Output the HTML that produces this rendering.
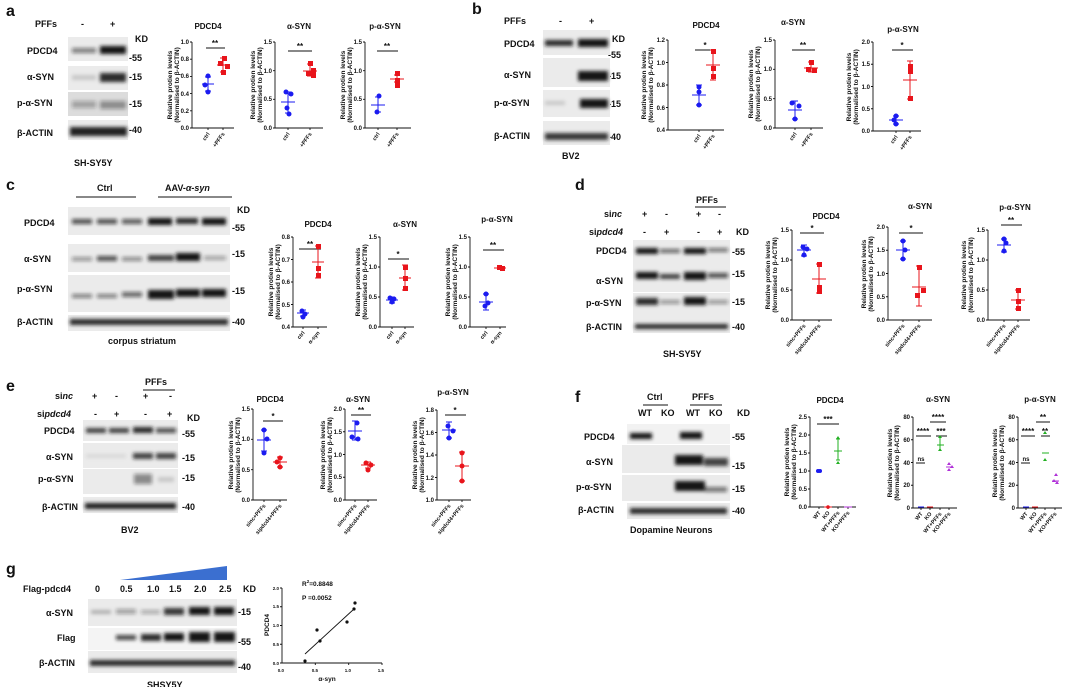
<!DOCTYPE html>
<html><head><meta charset="utf-8"><style>
body{margin:0;background:#fff}
svg{display:block}
text{font-family:"Liberation Sans",Arial,sans-serif;font-weight:bold;fill:#111}
.L{font-size:16px}.lb{font-size:9px}.tt{font-size:8px;text-anchor:middle}.tk{font-size:6px;text-anchor:end}
.yl{font-size:6.5px;text-anchor:middle}.xl{font-size:5.5px;text-anchor:end}.sg{font-size:8px;text-anchor:middle}
.ax{stroke:#111;stroke-width:0.9;fill:none}.bl{stroke:#1b1bf0;stroke-width:1;fill:none}.rd{stroke:#e8141b;stroke-width:1;fill:none}
.gr{stroke:#22b022;stroke-width:1;fill:none}.pu{stroke:#b030d8;stroke-width:1;fill:none}
.bc{fill:#1b1bf0}.rc{fill:#e8141b}.gc{fill:#22b022}.pc{fill:#b030d8}
.bg{fill:#ebebeb}.bd{fill:#151515}
</style></head><body>
<svg width="1080" height="687" viewBox="0 0 1080 687" xmlns="http://www.w3.org/2000/svg">
<defs><filter id="b" x="-20%" y="-80%" width="140%" height="260%"><feGaussianBlur stdDeviation="1.8"/></filter></defs>

<!-- ===== a ===== -->
<text class="L" x="6" y="16">a</text>
<text class="lb" x="35" y="27">PFFs</text><text class="lb" x="81" y="27">-</text><text class="lb" x="110" y="27">+</text>
<text class="lb" x="135" y="42">KD</text>
<text class="lb" x="27" y="54">PDCD4</text><text class="lb" x="27" y="80">α-SYN</text><text class="lb" x="17" y="106">p-α-SYN</text><text class="lb" x="17" y="136">β-ACTIN</text>
<text class="lb" x="129" y="61">-55</text><text class="lb" x="129" y="80">-15</text><text class="lb" x="129" y="107">-15</text><text class="lb" x="129" y="133">-40</text>
<rect class="bg" x="68" y="37" width="60" height="24"/><rect class="bg" x="68" y="66" width="60" height="24"/><rect class="bg" x="68" y="92" width="60" height="24" style="fill:#dcdcdc"/><rect class="bg" x="68" y="120" width="60" height="20"/>
<g filter="url(#b)"><rect class="bd" x="72" y="48" width="24" height="5" opacity=".5"/><rect class="bd" x="100" y="46" width="26" height="8"/>
<rect class="bd" x="72" y="75" width="24" height="5" opacity=".15"/><rect class="bd" x="100" y="73" width="26" height="9" opacity=".9"/>
<rect class="bd" x="72" y="101" width="24" height="7" opacity=".3"/><rect class="bd" x="100" y="101" width="26" height="8" opacity=".4"/>
<rect class="bd" x="70" y="127" width="57" height="9" opacity=".95"/></g>
<text class="lb" x="74" y="166">SH-SY5Y</text>

<g transform="translate(192,128)">
<text class="tt" x="16" y="-99">PDCD4</text>
<text class="yl" transform="translate(-20,-43) rotate(-90)">Relative protien levels</text><text class="yl" transform="translate(-13,-43) rotate(-90)">(Normalised to β-ACTIN)</text>
<path class="ax" d="M0,-86V0H42M0,0h-2M0,-17.2h-2M0,-34.4h-2M0,-51.6h-2M0,-68.8h-2M0,-86h-2M16,0v2M31,0v2"/>
<text class="tk" x="-3" y="2">0.0</text><text class="tk" x="-3" y="-15">0.2</text><text class="tk" x="-3" y="-32">0.4</text><text class="tk" x="-3" y="-50">0.6</text><text class="tk" x="-3" y="-67">0.8</text><text class="tk" x="-3" y="-84">1.0</text>
<path class="ax" d="M14,-80H33"/><text class="sg" x="23" y="-82">**</text>
<path class="bl" d="M10,-44h12M16,-51V-37M13,-51h6M13,-37h6"/><circle class="bc" cx="16" cy="-52" r="2.5"/><circle class="bc" cx="13" cy="-43" r="2.5"/><circle class="bc" cx="16" cy="-36" r="2.5"/>
<path class="rd" d="M25,-63h12M31,-70V-56M28,-70h6M28,-56h6"/><rect class="rc" x="30" y="-72" width="5" height="5"/><rect class="rc" x="26" y="-67" width="5" height="5"/><rect class="rc" x="33" y="-64" width="5" height="5"/><rect class="rc" x="29" y="-58" width="5" height="5"/>
<text class="xl" transform="translate(18,6) rotate(-55)">ctrl</text><text class="xl" transform="translate(33,6) rotate(-55)">+PFFs</text>
</g>
<g transform="translate(275,128)">
<text class="tt" x="24" y="-99">α-SYN</text>
<text class="yl" transform="translate(-20,-43) rotate(-90)">Relative protien levels</text><text class="yl" transform="translate(-13,-43) rotate(-90)">(Normalised to β-ACTIN)</text>
<path class="ax" d="M0,-86V0H48M0,0h-2M0,-28.7h-2M0,-57.3h-2M0,-86h-2M13,0v2M35,0v2"/>
<text class="tk" x="-3" y="2">0.0</text><text class="tk" x="-3" y="-27">0.5</text><text class="tk" x="-3" y="-55">1.0</text><text class="tk" x="-3" y="-84">1.5</text>
<path class="ax" d="M13,-77H37"/><text class="sg" x="25" y="-79">**</text>
<path class="bl" d="M6,-26h14M13,-36V-15M10,-36h6M10,-15h6"/><circle class="bc" cx="11" cy="-36" r="2.5"/><circle class="bc" cx="16" cy="-34" r="2.5"/><circle class="bc" cx="12" cy="-20" r="2.5"/><circle class="bc" cx="14" cy="-14" r="2.5"/>
<path class="rd" d="M28,-57h14M35,-64V-52M32,-64h6M32,-52h6"/><rect class="rc" x="33" y="-67" width="5" height="5"/><rect class="rc" x="36" y="-60" width="5" height="5"/><rect class="rc" x="31" y="-57" width="5" height="5"/><rect class="rc" x="36" y="-55" width="5" height="5"/>
<text class="xl" transform="translate(15,6) rotate(-55)">ctrl</text><text class="xl" transform="translate(37,6) rotate(-55)">+PFFs</text>
</g>
<g transform="translate(365,128)">
<text class="tt" x="20" y="-99">p-α-SYN</text>
<text class="yl" transform="translate(-20,-43) rotate(-90)">Relative protien levels</text><text class="yl" transform="translate(-13,-43) rotate(-90)">(Normalised to β-ACTIN)</text>
<path class="ax" d="M0,-86V0H46M0,0h-2M0,-28.7h-2M0,-57.3h-2M0,-86h-2M13,0v2M32,0v2"/>
<text class="tk" x="-3" y="2">0.0</text><text class="tk" x="-3" y="-27">0.5</text><text class="tk" x="-3" y="-55">1.0</text><text class="tk" x="-3" y="-84">1.5</text>
<path class="ax" d="M12,-77H33"/><text class="sg" x="22" y="-79">**</text>
<path class="bl" d="M6,-23h14M13,-31V-16M10,-31h6M10,-16h6"/><circle class="bc" cx="14" cy="-32" r="2.5"/><circle class="bc" cx="12" cy="-16" r="2.5"/>
<path class="rd" d="M25,-49h14M32,-53V-46M29,-53h6M29,-46h6"/><rect class="rc" x="30" y="-57" width="5" height="5"/><rect class="rc" x="30" y="-50" width="5" height="5"/><rect class="rc" x="30" y="-45" width="5" height="5"/>
<text class="xl" transform="translate(15,6) rotate(-55)">ctrl</text><text class="xl" transform="translate(34,6) rotate(-55)">+PFFs</text>
</g>

<!-- ===== b ===== -->
<text class="L" x="472" y="14">b</text>
<text class="lb" x="504" y="24">PFFs</text><text class="lb" x="559" y="24">-</text><text class="lb" x="589" y="24">+</text>
<text class="lb" x="612" y="42">KD</text>
<text class="lb" x="504" y="47">PDCD4</text><text class="lb" x="504" y="78">α-SYN</text><text class="lb" x="494" y="106">p-α-SYN</text><text class="lb" x="494" y="139">β-ACTIN</text>
<text class="lb" x="608" y="58">-55</text><text class="lb" x="608" y="79">-15</text><text class="lb" x="608" y="107">-15</text><text class="lb" x="608" y="140">-40</text>
<rect class="bg" x="543" y="30" width="67" height="25"/><rect class="bg" x="543" y="58" width="67" height="29"/><rect class="bg" x="543" y="90" width="67" height="27"/><rect class="bg" x="543" y="121" width="67" height="24"/>
<g filter="url(#b)"><rect class="bd" x="545" y="40" width="28" height="6" opacity=".9"/><rect class="bd" x="578" y="39" width="30" height="8"/>
<rect class="bd" x="578" y="71" width="30" height="10"/><rect class="bd" x="545" y="101" width="20" height="4" opacity=".15"/><rect class="bd" x="580" y="99" width="28" height="9"/>
<rect class="bd" x="545" y="133" width="63" height="7" opacity=".85"/></g>
<text class="lb" x="562" y="159">BV2</text>

<g transform="translate(668,130)">
<text class="tt" x="38" y="-102">PDCD4</text>
<text class="yl" transform="translate(-22,-45) rotate(-90)">Relative protien levels</text><text class="yl" transform="translate(-15,-45) rotate(-90)">(Normalised to β-ACTIN)</text>
<path class="ax" d="M0,-90V0H56M0,0h-2M0,-22.5h-2M0,-45h-2M0,-67.5h-2M0,-90h-2M31,0v2M45,0v2"/>
<text class="tk" x="-3" y="2">0.4</text><text class="tk" x="-3" y="-20">0.6</text><text class="tk" x="-3" y="-43">0.8</text><text class="tk" x="-3" y="-65">1.0</text><text class="tk" x="-3" y="-88">1.2</text>
<path class="ax" d="M27,-80H48"/><text class="sg" x="37" y="-82">*</text>
<path class="bl" d="M24,-35h14M31,-45V-25M28,-45h6M28,-25h6"/><circle class="bc" cx="31" cy="-43" r="2.5"/><circle class="bc" cx="31" cy="-38" r="2.5"/><circle class="bc" cx="31" cy="-25" r="2.5"/>
<path class="rd" d="M38,-65h14M45,-80V-50M42,-80h6M42,-50h6"/><rect class="rc" x="43" y="-81" width="5" height="5"/><rect class="rc" x="43" y="-64" width="5" height="5"/><rect class="rc" x="43" y="-56" width="5" height="5"/>
<text class="xl" transform="translate(33,6) rotate(-55)">ctrl</text><text class="xl" transform="translate(47,6) rotate(-55)">+PFFs</text>
</g>
<g transform="translate(775,128)">
<text class="tt" x="18" y="-103">α-SYN</text>
<text class="yl" transform="translate(-22,-44) rotate(-90)">Relative protien levels</text><text class="yl" transform="translate(-15,-44) rotate(-90)">(Normalised to β-ACTIN)</text>
<path class="ax" d="M0,-88V0H48M0,0h-2M0,-29.3h-2M0,-58.7h-2M0,-88h-2M20,0v2M36,0v2"/>
<text class="tk" x="-3" y="2">0.0</text><text class="tk" x="-3" y="-27">0.5</text><text class="tk" x="-3" y="-57">1.0</text><text class="tk" x="-3" y="-86">1.5</text>
<path class="ax" d="M17,-78H40"/><text class="sg" x="28" y="-80">**</text>
<path class="bl" d="M13,-18h14M20,-27V-9M17,-27h6M17,-27h6M17,-9h6"/><circle class="bc" cx="17" cy="-25" r="2.5"/><circle class="bc" cx="24" cy="-22" r="2.5"/><circle class="bc" cx="20" cy="-9" r="2.5"/>
<path class="rd" d="M29,-60h14M36,-66V-56M33,-66h6M33,-56h6"/><rect class="rc" x="34" y="-68" width="5" height="5"/><rect class="rc" x="31" y="-61" width="5" height="5"/><rect class="rc" x="37" y="-60" width="5" height="5"/>
<text class="xl" transform="translate(22,6) rotate(-55)">ctrl</text><text class="xl" transform="translate(38,6) rotate(-55)">+PFFs</text>
</g>
<g transform="translate(873,131)">
<text class="tt" x="30" y="-99">p-α-SYN</text>
<text class="yl" transform="translate(-22,-44) rotate(-90)">Relative protien levels</text><text class="yl" transform="translate(-15,-44) rotate(-90)">(Normalised to β-ACTIN)</text>
<path class="ax" d="M0,-89V0H48M0,0h-2M0,-22.25h-2M0,-44.5h-2M0,-66.75h-2M0,-89h-2M23,0v2M37,0v2"/>
<text class="tk" x="-3" y="2">0.0</text><text class="tk" x="-3" y="-20">0.5</text><text class="tk" x="-3" y="-42">1.0</text><text class="tk" x="-3" y="-65">1.5</text><text class="tk" x="-3" y="-87">2.0</text>
<path class="ax" d="M19,-81H40"/><text class="sg" x="29" y="-83">*</text>
<path class="bl" d="M16,-11h14M23,-15V-7M20,-15h6M20,-7h6"/><circle class="bc" cx="23" cy="-15" r="2.5"/><circle class="bc" cx="21" cy="-11" r="2.5"/><circle class="bc" cx="23" cy="-7" r="2.5"/>
<path class="rd" d="M30,-51h14M37,-70V-32M34,-70h6M34,-32h6"/><rect class="rc" x="35" y="-67" width="5" height="5"/><rect class="rc" x="35" y="-62" width="5" height="5"/><rect class="rc" x="35" y="-35" width="5" height="5"/>
<text class="xl" transform="translate(25,6) rotate(-55)">ctrl</text><text class="xl" transform="translate(39,6) rotate(-55)">+PFFs</text>
</g>

<!-- ===== c ===== -->
<text class="L" x="6" y="190">c</text>
<text class="lb" x="97" y="191">Ctrl</text><path class="ax" d="M76,197H136M158,197H232"/>
<text class="lb" x="165" y="191">AAV-<tspan font-style="italic">α-syn</tspan></text>
<text class="lb" x="237" y="213">KD</text>
<text class="lb" x="24" y="226">PDCD4</text><text class="lb" x="24" y="262">α-SYN</text><text class="lb" x="17" y="292">p-α-SYN</text><text class="lb" x="17" y="325">β-ACTIN</text>
<text class="lb" x="232" y="231">-55</text><text class="lb" x="232" y="257">-15</text><text class="lb" x="232" y="294">-15</text><text class="lb" x="232" y="325">-40</text>
<rect class="bg" x="68" y="207" width="162" height="28"/><rect class="bg" x="68" y="244" width="162" height="28"/><rect class="bg" x="68" y="275" width="162" height="37"/><rect class="bg" x="68" y="315" width="162" height="16"/>
<g filter="url(#b)"><rect class="bd" x="72" y="219" width="20" height="5" opacity=".7"/><rect class="bd" x="97" y="219" width="20" height="5" opacity=".7"/><rect class="bd" x="122" y="219" width="20" height="5" opacity=".65"/><rect class="bd" x="148" y="218" width="24" height="7"/><rect class="bd" x="176" y="218" width="22" height="6" opacity=".9"/><rect class="bd" x="202" y="218" width="24" height="7"/>
<rect class="bd" x="72" y="257" width="20" height="4" opacity=".4"/><rect class="bd" x="97" y="256" width="20" height="5" opacity=".7"/><rect class="bd" x="122" y="257" width="20" height="4" opacity=".45"/><rect class="bd" x="148" y="255" width="26" height="6" opacity=".8"/><rect class="bd" x="176" y="253" width="24" height="8"/><rect class="bd" x="204" y="256" width="22" height="4" opacity=".35"/>
<rect class="bd" x="72" y="294" width="20" height="4" opacity=".5"/><rect class="bd" x="97" y="294" width="20" height="4" opacity=".5"/><rect class="bd" x="122" y="292" width="20" height="5" opacity=".6"/><rect class="bd" x="148" y="290" width="26" height="9"/><rect class="bd" x="176" y="289" width="24" height="8"/><rect class="bd" x="202" y="289" width="24" height="8"/>
<rect class="bd" x="70" y="319" width="158" height="6" opacity=".9"/></g>
<text class="lb" x="108" y="344">corpus striatum</text>

<g transform="translate(293,327)">
<text class="tt" x="25" y="-100">PDCD4</text>
<text class="yl" transform="translate(-20,-45) rotate(-90)">Relative protien levels</text><text class="yl" transform="translate(-13,-45) rotate(-90)">(Normalised to β-ACTIN)</text>
<path class="ax" d="M0,-90V0H34M0,0h-2M0,-22.5h-2M0,-45h-2M0,-67.5h-2M0,-90h-2M10,0v2M25,0v2"/>
<text class="tk" x="-3" y="2">0.4</text><text class="tk" x="-3" y="-20">0.5</text><text class="tk" x="-3" y="-43">0.6</text><text class="tk" x="-3" y="-65">0.7</text><text class="tk" x="-3" y="-88">0.8</text>
<path class="ax" d="M6,-78H28"/><text class="sg" x="17" y="-80">**</text>
<path class="bl" d="M4,-14h12M10,-17V-11M7,-17h6M7,-11h6"/><circle class="bc" cx="9" cy="-16" r="2.5"/><circle class="bc" cx="12" cy="-13" r="2.5"/><circle class="bc" cx="10" cy="-10" r="2.5"/>
<path class="rd" d="M19,-65h12M25,-81V-49M22,-81h6M22,-49h6"/><rect class="rc" x="23" y="-83" width="5" height="5"/><rect class="rc" x="23" y="-61" width="5" height="5"/><rect class="rc" x="23" y="-54" width="5" height="5"/>
<text class="xl" transform="translate(12,6) rotate(-50)">ctrl</text><text class="xl" transform="translate(27,6) rotate(-50)">α-syn</text>
</g>
<g transform="translate(380,327)">
<text class="tt" x="25" y="-100">α-SYN</text>
<text class="yl" transform="translate(-20,-45) rotate(-90)">Relative protien levels</text><text class="yl" transform="translate(-13,-45) rotate(-90)">(Normalised to β-ACTIN)</text>
<path class="ax" d="M0,-90V0H34M0,0h-2M0,-30h-2M0,-60h-2M0,-90h-2M12,0v2M25,0v2"/>
<text class="tk" x="-3" y="2">0.0</text><text class="tk" x="-3" y="-28">0.5</text><text class="tk" x="-3" y="-58">1.0</text><text class="tk" x="-3" y="-88">1.5</text>
<path class="ax" d="M8,-68H29"/><text class="sg" x="18" y="-70">*</text>
<path class="bl" d="M6,-27h12M12,-30V-24M9,-30h6M9,-24h6"/><circle class="bc" cx="10" cy="-29" r="2.5"/><circle class="bc" cx="14" cy="-28" r="2.5"/><circle class="bc" cx="12" cy="-25" r="2.5"/>
<path class="rd" d="M19,-49h12M25,-62V-37M22,-62h6M22,-37h6"/><rect class="rc" x="23" y="-62" width="5" height="5"/><rect class="rc" x="23" y="-51" width="5" height="5"/><rect class="rc" x="23" y="-41" width="5" height="5"/>
<text class="xl" transform="translate(14,6) rotate(-50)">ctrl</text><text class="xl" transform="translate(27,6) rotate(-50)">α-syn</text>
</g>
<g transform="translate(470,327)">
<text class="tt" x="27" y="-105">p-α-SYN</text>
<text class="yl" transform="translate(-20,-45) rotate(-90)">Relative protien levels</text><text class="yl" transform="translate(-13,-45) rotate(-90)">(Normalised to β-ACTIN)</text>
<path class="ax" d="M0,-90V0H36M0,0h-2M0,-30h-2M0,-60h-2M0,-90h-2M16,0v2M30,0v2"/>
<text class="tk" x="-3" y="2">0.0</text><text class="tk" x="-3" y="-28">0.5</text><text class="tk" x="-3" y="-58">1.0</text><text class="tk" x="-3" y="-88">1.5</text>
<path class="ax" d="M13,-77H34"/><text class="sg" x="23" y="-79">**</text>
<path class="bl" d="M9,-25h14M16,-33V-17M13,-33h6M13,-17h6"/><circle class="bc" cx="16" cy="-33" r="2.5"/><circle class="bc" cx="18" cy="-24" r="2.5"/><circle class="bc" cx="15" cy="-21" r="2.5"/>
<path class="rd" d="M24,-59h12"/><rect class="rc" x="27" y="-62" width="5" height="5"/><rect class="rc" x="30" y="-61" width="5" height="5"/>
<text class="xl" transform="translate(18,6) rotate(-50)">ctrl</text><text class="xl" transform="translate(32,6) rotate(-50)">α-syn</text>
</g>

<!-- ===== d ===== -->
<text class="L" x="575" y="190">d</text>
<text class="lb" x="696" y="203">PFFs</text><path class="ax" d="M695,207H726"/>
<text class="lb" x="604" y="217"><tspan>si</tspan><tspan font-style="italic">nc</tspan></text><text class="lb" x="589" y="235">si<tspan font-style="italic">pdcd4</tspan></text>
<text class="lb" x="642" y="217">+</text><text class="lb" x="665" y="217">-</text><text class="lb" x="696" y="217">+</text><text class="lb" x="718" y="217">-</text>
<text class="lb" x="643" y="235">-</text><text class="lb" x="664" y="235">+</text><text class="lb" x="697" y="235">-</text><text class="lb" x="717" y="235">+</text>
<text class="lb" x="736" y="235">KD</text>
<text class="lb" x="596" y="254">PDCD4</text><text class="lb" x="596" y="284">α-SYN</text><text class="lb" x="586" y="306">p-α-SYN</text><text class="lb" x="586" y="330">β-ACTIN</text>
<text class="lb" x="732" y="255">-55</text><text class="lb" x="732" y="277">-15</text><text class="lb" x="732" y="305">-15</text><text class="lb" x="732" y="330">-40</text>
<rect class="bg" x="633" y="240" width="97" height="24"/><rect class="bg" x="633" y="264" width="97" height="28"/><rect class="bg" x="633" y="293" width="97" height="27"/><rect class="bg" x="633" y="320" width="97" height="13"/>
<g filter="url(#b)"><rect class="bd" x="636" y="248" width="22" height="6"/><rect class="bd" x="660" y="249" width="20" height="4" opacity=".6"/><rect class="bd" x="684" y="248" width="22" height="6"/><rect class="bd" x="708" y="248" width="20" height="4" opacity=".55"/>
<rect class="bd" x="636" y="272" width="22" height="7"/><rect class="bd" x="660" y="274" width="20" height="5" opacity=".8"/><rect class="bd" x="684" y="272" width="22" height="8"/><rect class="bd" x="708" y="273" width="20" height="5" opacity=".7"/>
<rect class="bd" x="636" y="298" width="22" height="7" opacity=".9"/><rect class="bd" x="660" y="300" width="20" height="4" opacity=".4"/><rect class="bd" x="684" y="297" width="22" height="8"/><rect class="bd" x="708" y="300" width="20" height="4" opacity=".4"/>
<rect class="bd" x="635" y="324" width="93" height="5" opacity=".9"/></g>
<text class="lb" x="663" y="357">SH-SY5Y</text>

<g transform="translate(792,320)">
<text class="tt" x="34" y="-101">PDCD4</text>
<text class="yl" transform="translate(-22,-45) rotate(-90)">Relative protien levels</text><text class="yl" transform="translate(-15,-45) rotate(-90)">(Normalised to β-ACTIN)</text>
<path class="ax" d="M0,-90V0H40M0,0h-2M0,-30h-2M0,-60h-2M0,-90h-2M12,0v2M27,0v2"/>
<text class="tk" x="-3" y="2">0.0</text><text class="tk" x="-3" y="-28">0.5</text><text class="tk" x="-3" y="-58">1.0</text><text class="tk" x="-3" y="-88">1.5</text>
<path class="ax" d="M8,-87H32"/><text class="sg" x="20" y="-89">*</text>
<path class="bl" d="M5,-70h14M12,-75V-64M9,-75h6M9,-64h6"/><circle class="bc" cx="11" cy="-73" r="2.5"/><circle class="bc" cx="15" cy="-71" r="2.5"/><circle class="bc" cx="12" cy="-65" r="2.5"/>
<path class="rd" d="M20,-41h14M27,-56V-27M24,-56h6M24,-27h6"/><rect class="rc" x="25" y="-58" width="5" height="5"/><rect class="rc" x="25" y="-35" width="5" height="5"/><rect class="rc" x="25" y="-31" width="5" height="5"/>
<text class="xl" transform="translate(14,6) rotate(-50)">sinc+PFFs</text><text class="xl" transform="translate(29,6) rotate(-50)">sipdcd4+PFFs</text>
</g>
<g transform="translate(888,320)">
<text class="tt" x="32" y="-111">α-SYN</text>
<text class="yl" transform="translate(-22,-46) rotate(-90)">Relative protien levels</text><text class="yl" transform="translate(-15,-46) rotate(-90)">(Normalised to β-ACTIN)</text>
<path class="ax" d="M0,-93V0H44M0,0h-2M0,-23.25h-2M0,-46.5h-2M0,-69.75h-2M0,-93h-2M15,0v2M31,0v2"/>
<text class="tk" x="-3" y="2">0.0</text><text class="tk" x="-3" y="-21">0.5</text><text class="tk" x="-3" y="-44">1.0</text><text class="tk" x="-3" y="-68">1.5</text><text class="tk" x="-3" y="-91">2.0</text>
<path class="ax" d="M11,-87H35"/><text class="sg" x="23" y="-89">*</text>
<path class="bl" d="M8,-70h14M15,-79V-61M12,-79h6M12,-61h6"/><circle class="bc" cx="15" cy="-79" r="2.5"/><circle class="bc" cx="17" cy="-70" r="2.5"/><circle class="bc" cx="15" cy="-61" r="2.5"/>
<path class="rd" d="M24,-33h14M31,-54V-14M28,-54h6M28,-14h6"/><rect class="rc" x="29" y="-55" width="5" height="5"/><rect class="rc" x="33" y="-32" width="5" height="5"/><rect class="rc" x="27" y="-27" width="5" height="5"/>
<text class="xl" transform="translate(17,6) rotate(-50)">sinc+PFFs</text><text class="xl" transform="translate(33,6) rotate(-50)">sipdcd4+PFFs</text>
</g>
<g transform="translate(988,320)">
<text class="tt" x="27" y="-110">p-α-SYN</text>
<text class="yl" transform="translate(-22,-45) rotate(-90)">Relative protien levels</text><text class="yl" transform="translate(-15,-45) rotate(-90)">(Normalised to β-ACTIN)</text>
<path class="ax" d="M0,-90V0H42M0,0h-2M0,-30h-2M0,-60h-2M0,-90h-2M16,0v2M30,0v2"/>
<text class="tk" x="-3" y="2">0.0</text><text class="tk" x="-3" y="-28">0.5</text><text class="tk" x="-3" y="-58">1.0</text><text class="tk" x="-3" y="-88">1.5</text>
<path class="ax" d="M13,-95H34"/><text class="sg" x="23" y="-97">**</text>
<path class="bl" d="M9,-75h14M16,-81V-68M13,-81h6M13,-68h6"/><circle class="bc" cx="16" cy="-81" r="2.5"/><circle class="bc" cx="18" cy="-77" r="2.5"/><circle class="bc" cx="16" cy="-69" r="2.5"/>
<path class="rd" d="M23,-20h14M30,-30V-11M27,-30h6M27,-11h6"/><rect class="rc" x="28" y="-32" width="5" height="5"/><rect class="rc" x="28" y="-21" width="5" height="5"/><rect class="rc" x="28" y="-14" width="5" height="5"/>
<text class="xl" transform="translate(18,6) rotate(-50)">sinc+PFFs</text><text class="xl" transform="translate(32,6) rotate(-50)">sipdcd4+PFFs</text>
</g>

<!-- ===== e ===== -->
<text class="L" x="6" y="391">e</text>
<text class="lb" x="145" y="385">PFFs</text><path class="ax" d="M143,390H175"/>
<text class="lb" x="55" y="399">si<tspan font-style="italic">nc</tspan></text><text class="lb" x="37" y="417">si<tspan font-style="italic">pdcd4</tspan></text>
<text class="lb" x="92" y="399">+</text><text class="lb" x="115" y="399">-</text><text class="lb" x="143" y="399">+</text><text class="lb" x="169" y="399">-</text>
<text class="lb" x="94" y="417">-</text><text class="lb" x="114" y="417">+</text><text class="lb" x="144" y="417">-</text><text class="lb" x="167" y="417">+</text>
<text class="lb" x="187" y="421">KD</text>
<text class="lb" x="44" y="434">PDCD4</text><text class="lb" x="46" y="460">α-SYN</text><text class="lb" x="38" y="482">p-α-SYN</text><text class="lb" x="42" y="510">β-ACTIN</text>
<text class="lb" x="182" y="437">-55</text><text class="lb" x="182" y="461">-15</text><text class="lb" x="182" y="481">-15</text><text class="lb" x="182" y="510">-40</text>
<rect class="bg" x="83" y="420" width="95" height="21"/><rect class="bg" x="83" y="443" width="95" height="25"/><rect class="bg" x="83" y="469" width="95" height="25"/><rect class="bg" x="83" y="497" width="95" height="16"/>
<g filter="url(#b)"><rect class="bd" x="86" y="428" width="20" height="5" opacity=".8"/><rect class="bd" x="109" y="428" width="20" height="5" opacity=".8"/><rect class="bd" x="133" y="427" width="20" height="6" opacity=".9"/><rect class="bd" x="156" y="428" width="20" height="5" opacity=".7"/>
<rect class="bd" x="133" y="453" width="20" height="6" opacity=".8"/><rect class="bd" x="156" y="453" width="20" height="6" opacity=".8"/><rect class="bd" x="86" y="454" width="40" height="4" opacity=".08"/>
<rect class="bd" x="134" y="474" width="18" height="10" opacity=".45"/><rect class="bd" x="158" y="477" width="16" height="5" opacity=".15"/>
<rect class="bd" x="85" y="503" width="91" height="6" opacity=".95"/></g>
<text class="lb" x="121" y="533">BV2</text>

<g transform="translate(253,500)">
<text class="tt" x="17" y="-98">PDCD4</text>
<text class="yl" transform="translate(-20,-45) rotate(-90)">Relative protien levels</text><text class="yl" transform="translate(-13,-45) rotate(-90)">(Normalised to β-ACTIN)</text>
<path class="ax" d="M0,-91V0H34M0,0h-2M0,-30.3h-2M0,-60.7h-2M0,-91h-2M11,0v2M27,0v2"/>
<text class="tk" x="-3" y="2">0.0</text><text class="tk" x="-3" y="-28">0.5</text><text class="tk" x="-3" y="-59">1.0</text><text class="tk" x="-3" y="-89">1.5</text>
<path class="ax" d="M10,-79H30"/><text class="sg" x="20" y="-81">*</text>
<path class="bl" d="M4,-60h14M11,-70V-49M8,-70h6M8,-49h6"/><circle class="bc" cx="11" cy="-70" r="2.5"/><circle class="bc" cx="14" cy="-61" r="2.5"/><circle class="bc" cx="11" cy="-47" r="2.5"/>
<path class="rd" d="M20,-38h14M27,-43V-33M24,-43h6M24,-33h6"/><circle class="rc" cx="27" cy="-42" r="2.5"/><circle class="rc" cx="24" cy="-38" r="2.5"/><circle class="rc" cx="27" cy="-33" r="2.5"/>
<text class="xl" transform="translate(13,6) rotate(-50)">sinc+PFFs</text><text class="xl" transform="translate(29,6) rotate(-50)">sipdcd4+PFFs</text>
</g>
<g transform="translate(345,500)">
<text class="tt" x="13" y="-98">α-SYN</text>
<text class="yl" transform="translate(-20,-45) rotate(-90)">Relative protien levels</text><text class="yl" transform="translate(-13,-45) rotate(-90)">(Normalised to β-ACTIN)</text>
<path class="ax" d="M0,-91V0H32M0,0h-2M0,-22.75h-2M0,-45.5h-2M0,-68.25h-2M0,-91h-2M10,0v2M23,0v2"/>
<text class="tk" x="-3" y="2">0.0</text><text class="tk" x="-3" y="-21">0.5</text><text class="tk" x="-3" y="-43">1.0</text><text class="tk" x="-3" y="-66">1.5</text><text class="tk" x="-3" y="-89">2.0</text>
<path class="ax" d="M6,-85H26"/><text class="sg" x="16" y="-87">**</text>
<path class="bl" d="M3,-69h14M10,-79V-60M7,-79h6M7,-60h6"/><circle class="bc" cx="12" cy="-77" r="2.5"/><circle class="bc" cx="7" cy="-63" r="2.5"/><circle class="bc" cx="13" cy="-61" r="2.5"/>
<path class="rd" d="M16,-35h14M23,-38V-32M20,-38h6M20,-32h6"/><circle class="rc" cx="21" cy="-37" r="2.5"/><circle class="rc" cx="26" cy="-35" r="2.5"/><circle class="rc" cx="23" cy="-30" r="2.5"/>
<text class="xl" transform="translate(12,6) rotate(-50)">sinc+PFFs</text><text class="xl" transform="translate(25,6) rotate(-50)">sipdcd4+PFFs</text>
</g>
<g transform="translate(437,500)">
<text class="tt" x="16" y="-105">p-α-SYN</text>
<text class="yl" transform="translate(-20,-45) rotate(-90)">Relative protien levels</text><text class="yl" transform="translate(-13,-45) rotate(-90)">(Normalised to β-ACTIN)</text>
<path class="ax" d="M0,-90V0H34M0,0h-2M0,-22.5h-2M0,-45h-2M0,-67.5h-2M0,-90h-2M12,0v2M25,0v2"/>
<text class="tk" x="-3" y="2">1.0</text><text class="tk" x="-3" y="-20">1.2</text><text class="tk" x="-3" y="-43">1.4</text><text class="tk" x="-3" y="-65">1.6</text><text class="tk" x="-3" y="-88">1.8</text>
<path class="ax" d="M8,-85H29"/><text class="sg" x="18" y="-87">*</text>
<path class="bl" d="M5,-70h14M12,-78V-62M9,-78h6M9,-62h6"/><circle class="bc" cx="11" cy="-74" r="2.5"/><circle class="bc" cx="16" cy="-69" r="2.5"/><circle class="bc" cx="12" cy="-62" r="2.5"/>
<path class="rd" d="M18,-34h14M25,-48V-19M22,-48h6M22,-19h6"/><circle class="rc" cx="25" cy="-47" r="2.5"/><circle class="rc" cx="25" cy="-34" r="2.5"/><circle class="rc" cx="25" cy="-19" r="2.5"/>
<text class="xl" transform="translate(14,6) rotate(-50)">sinc+PFFs</text><text class="xl" transform="translate(27,6) rotate(-50)">sipdcd4+PFFs</text>
</g>

<!-- ===== f ===== -->
<text class="L" x="575" y="402">f</text>
<text class="lb" x="647" y="400">Ctrl</text><path class="ax" d="M643,405H668M690,405H722"/><text class="lb" x="692" y="400">PFFs</text>
<text class="lb" x="638" y="416">WT</text><text class="lb" x="661" y="416">KO</text><text class="lb" x="686" y="416">WT</text><text class="lb" x="709" y="416">KO</text><text class="lb" x="737" y="416">KD</text>
<text class="lb" x="584" y="440">PDCD4</text><text class="lb" x="586" y="465">α-SYN</text><text class="lb" x="576" y="490">p-α-SYN</text><text class="lb" x="578" y="513">β-ACTIN</text>
<text class="lb" x="732" y="440">-55</text><text class="lb" x="732" y="469">-15</text><text class="lb" x="732" y="492">-15</text><text class="lb" x="732" y="514">-40</text>
<rect class="bg" x="627" y="424" width="103" height="20" style="fill:#f2f2f2"/><rect class="bg" x="622" y="445" width="108" height="28"/><rect class="bg" x="622" y="475" width="108" height="26"/><rect class="bg" x="627" y="503" width="103" height="16"/>
<g filter="url(#b)"><rect class="bd" x="630" y="433" width="22" height="6"/><rect class="bd" x="680" y="432" width="22" height="7"/>
<rect class="bd" x="675" y="455" width="28" height="10"/><rect class="bd" x="704" y="458" width="24" height="8" opacity=".8"/>
<rect class="bd" x="675" y="481" width="30" height="10"/><rect class="bd" x="705" y="487" width="22" height="5" opacity=".55"/>
<rect class="bd" x="630" y="508" width="97" height="6" opacity=".9"/></g>
<text class="lb" x="630" y="533">Dopamine Neurons</text>

<g transform="translate(810,507)">
<text class="tt" x="20" y="-104">PDCD4</text>
<text class="yl" transform="translate(-21,-45) rotate(-90)">Relative protien levels</text><text class="yl" transform="translate(-14,-45) rotate(-90)">(Normalised to β-ACTIN)</text>
<path class="ax" d="M0,-90V0H46M0,0h-2M0,-18h-2M0,-36h-2M0,-54h-2M0,-72h-2M0,-90h-2M9,0v2M18,0v2M28,0v2M38,0v2"/>
<text class="tk" x="-3" y="2">0.0</text><text class="tk" x="-3" y="-16">0.5</text><text class="tk" x="-3" y="-34">1.0</text><text class="tk" x="-3" y="-52">1.5</text><text class="tk" x="-3" y="-70">2.0</text><text class="tk" x="-3" y="-88">2.5</text>
<path class="ax" d="M7,-83H29"/><text class="sg" x="18" y="-85">***</text>
<path class="bl" d="M6,-36h6"/><circle class="bc" cx="8" cy="-36" r="2"/><circle class="bc" cx="10" cy="-36" r="2"/>
<path class="rd" d="M14,0h8"/><circle class="rc" cx="18" cy="0" r="1.8"/>
<path class="gr" d="M24,-56h8M28,-68V-47M26,-68h4M26,-47h4"/><path class="gc" d="M28,-71l2,3h-4zM28,-46l2,3h-4z"/>
<path class="pu" d="M34,0h8"/>
<text class="xl" transform="translate(11,6) rotate(-50)">WT</text><text class="xl" transform="translate(20,6) rotate(-50)">KO</text><text class="xl" transform="translate(30,6) rotate(-50)">WT+PFFs</text><text class="xl" transform="translate(40,6) rotate(-50)">KO+PFFs</text>
</g>
<g transform="translate(913,508)">
<text class="tt" x="25" y="-106">α-SYN</text>
<text class="yl" transform="translate(-21,-45) rotate(-90)">Relative protien levels</text><text class="yl" transform="translate(-14,-45) rotate(-90)">(Normalised to β-ACTIN)</text>
<path class="ax" d="M0,-91V0H44M0,0h-2M0,-22.75h-2M0,-45.5h-2M0,-68.25h-2M0,-91h-2M8,0v2M17,0v2M27,0v2M36,0v2"/>
<text class="tk" x="-3" y="2">0</text><text class="tk" x="-3" y="-21">20</text><text class="tk" x="-3" y="-43">40</text><text class="tk" x="-3" y="-66">60</text><text class="tk" x="-3" y="-89">80</text>
<path class="ax" d="M3,-45H12M3,-72H18M23,-72H34M17,-86H33"/><text class="sg" x="8" y="-47" style="font-size:6px">ns</text><text class="sg" x="10" y="-74">****</text><text class="sg" x="28" y="-74">***</text><text class="sg" x="25" y="-88">****</text>
<path class="bl" d="M5,-1h6"/><path class="rd" d="M14,-1h6"/>
<path class="gr" d="M24,-63h7M27,-70V-58"/><path class="gc" d="M27,-73l2,3h-4zM27,-60l2,3h-4z"/>
<path class="pu" d="M33,-41h7"/><path class="pc" d="M36,-46l2,3h-4zM39,-43l2,3h-4zM36,-40l2,3h-4z"/>
<text class="xl" transform="translate(10,6) rotate(-50)">WT</text><text class="xl" transform="translate(19,6) rotate(-50)">KO</text><text class="xl" transform="translate(29,6) rotate(-50)">WT+PFFs</text><text class="xl" transform="translate(38,6) rotate(-50)">KO+PFFs</text>
</g>
<g transform="translate(1018,508)">
<text class="tt" x="22" y="-106">p-α-SYN</text>
<text class="yl" transform="translate(-21,-45) rotate(-90)">Relative protien levels</text><text class="yl" transform="translate(-14,-45) rotate(-90)">(Normalised to β-ACTIN)</text>
<path class="ax" d="M0,-91V0H44M0,0h-2M0,-22.75h-2M0,-45.5h-2M0,-68.25h-2M0,-91h-2M8,0v2M17,0v2M27,0v2M37,0v2"/>
<text class="tk" x="-3" y="2">0</text><text class="tk" x="-3" y="-21">20</text><text class="tk" x="-3" y="-43">40</text><text class="tk" x="-3" y="-66">60</text><text class="tk" x="-3" y="-89">80</text>
<path class="ax" d="M3,-45H12M3,-72H17M23,-72H32M18,-86H32"/><text class="sg" x="8" y="-47" style="font-size:6px">ns</text><text class="sg" x="10" y="-74">****</text><text class="sg" x="27" y="-74">**</text><text class="sg" x="25" y="-88">**</text>
<path class="bl" d="M5,-1h6"/><path class="rd" d="M14,-1h6"/>
<path class="gr" d="M24,-55h7"/><path class="gc" d="M27,-77l2,3h-4zM27,-50l2,3h-4z"/>
<path class="pu" d="M34,-27h7"/><path class="pc" d="M38,-35l2,3h-4zM36,-29l2,3h-4zM39,-27l2,3h-4z"/>
<text class="xl" transform="translate(10,6) rotate(-50)">WT</text><text class="xl" transform="translate(19,6) rotate(-50)">KO</text><text class="xl" transform="translate(29,6) rotate(-50)">WT+PFFs</text><text class="xl" transform="translate(39,6) rotate(-50)">KO+PFFs</text>
</g>

<!-- ===== g ===== -->
<text class="L" x="6" y="574">g</text>
<polygon points="120,580 227,566 227,580" fill="#3b6fd0"/>
<text class="lb" x="23" y="592">Flag-pdcd4</text>
<text class="lb" x="95" y="592">0</text><text class="lb" x="120" y="592">0.5</text><text class="lb" x="147" y="592">1.0</text><text class="lb" x="169" y="592">1.5</text><text class="lb" x="194" y="592">2.0</text><text class="lb" x="219" y="592">2.5</text><text class="lb" x="243" y="592">KD</text>
<text class="lb" x="46" y="616">α-SYN</text><text class="lb" x="57" y="641">Flag</text><text class="lb" x="39" y="666">β-ACTIN</text>
<text class="lb" x="238" y="615">-15</text><text class="lb" x="238" y="645">-55</text><text class="lb" x="238" y="670">-40</text>
<rect class="bg" x="88" y="599" width="149" height="27"/><rect class="bg" x="88" y="628" width="149" height="22" style="fill:#f4f4f4"/><rect class="bg" x="88" y="651" width="149" height="22"/>
<g filter="url(#b)"><rect class="bd" x="91" y="610" width="20" height="4" opacity=".25"/><rect class="bd" x="116" y="609" width="20" height="5" opacity=".35"/><rect class="bd" x="141" y="610" width="19" height="4" opacity=".3"/><rect class="bd" x="164" y="608" width="20" height="7" opacity=".85"/><rect class="bd" x="189" y="607" width="21" height="8"/><rect class="bd" x="214" y="607" width="20" height="8"/>
<rect class="bd" x="116" y="635" width="20" height="5" opacity=".75"/><rect class="bd" x="141" y="634" width="20" height="7" opacity=".9"/><rect class="bd" x="164" y="633" width="20" height="8"/><rect class="bd" x="189" y="632" width="21" height="10"/><rect class="bd" x="214" y="632" width="21" height="10"/>
<rect class="bd" x="90" y="660" width="145" height="6" opacity=".9"/></g>
<text class="lb" x="147" y="688">SHSY5Y</text>

<g transform="translate(282,663)">
<path class="ax" d="M0,-75V0H100M0,0h-2M0,-18.75h-2M0,-37.5h-2M0,-56.25h-2M0,-75h-2M33.3,0v2M66.7,0v2M100,0v2"/>
<text class="tk" x="-3" y="2" style="font-size:4.5px">0.0</text><text class="tk" x="-3" y="-17" style="font-size:4.5px">0.5</text><text class="tk" x="-3" y="-36" style="font-size:4.5px">1.0</text><text class="tk" x="-3" y="-55" style="font-size:4.5px">1.5</text><text class="tk" x="-3" y="-73" style="font-size:4.5px">2.0</text>
<text class="tk" x="2" y="9" style="font-size:4.5px">0.0</text><text class="tk" x="36" y="9" style="font-size:4.5px">0.5</text><text class="tk" x="69" y="9" style="font-size:4.5px">1.0</text><text class="tk" x="102" y="9" style="font-size:4.5px">1.5</text>
<text class="lb" x="20" y="-77" style="font-size:6.5px">R<tspan dy="-3" style="font-size:4.5px">2</tspan><tspan dy="3">=0.8848</tspan></text>
<text class="lb" x="20" y="-63" style="font-size:6.5px">P =0.0052</text>
<text class="yl" transform="translate(-13,-38) rotate(-90)" style="font-size:6.5px">PDCD4</text>
<text class="yl" x="45" y="18" style="font-size:6.5px">α-syn</text>
<path class="ax" d="M23,-9L72,-54"/>
<g fill="#111"><circle cx="23" cy="-2" r="1.6"/><circle cx="35" cy="-33" r="1.6"/><circle cx="38" cy="-22" r="1.6"/><circle cx="65" cy="-41" r="1.6"/><circle cx="72" cy="-54" r="1.6"/><circle cx="73" cy="-60" r="1.6"/></g>
</g>
</svg>
</body></html>
